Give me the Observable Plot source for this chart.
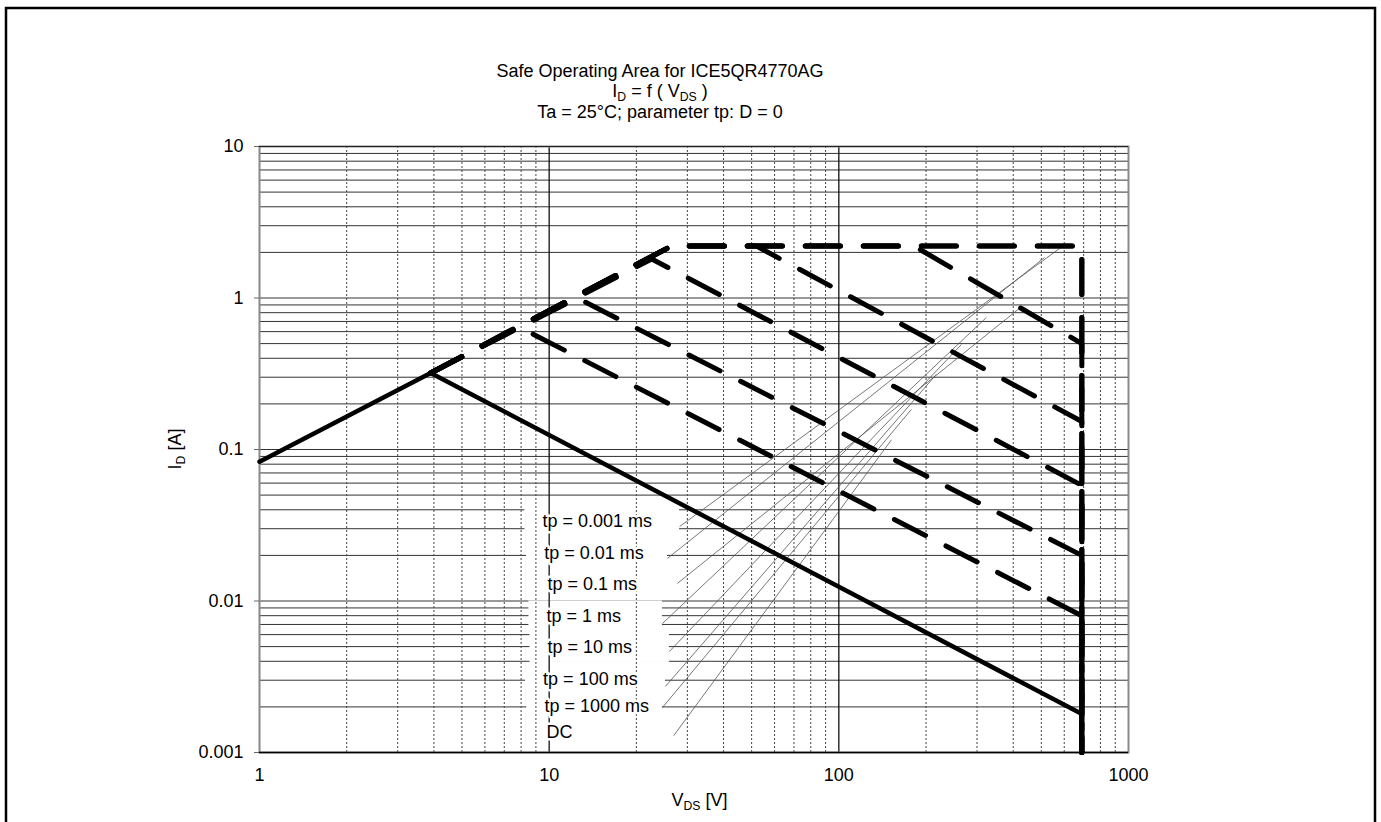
<!DOCTYPE html>
<html>
<head>
<meta charset="utf-8">
<script src="https://cdn.jsdelivr.net/npm/d3@7"></script>
<script src="https://cdn.jsdelivr.net/npm/@observablehq/plot@0.6"></script>
<style>
  html, body { margin: 0; padding: 0; background: #fff; }
  #chart { position: relative; width: 1381px; height: 822px; overflow: hidden; }
  #chart svg { display: block; }
</style>
</head>
<body>
<div id="chart"></div>
<script>
// ---------- data ----------
const titleLine1 = "Safe Operating Area for ICE5QR4770AG";
const titleLine3 = "Ta = 25°C; parameter tp: D = 0";

const xTicks = [1, 10, 100, 1000];
const yTicks = [0.001, 0.01, 0.1, 1, 10];
const xMinorGrid = [2, 3, 4, 5, 6, 7, 8, 9, 20, 30, 40, 50, 60, 70, 80, 90, 200, 300, 400, 500, 600, 700, 800, 900];
const xMajorGrid = [10, 100];
const yGrid = [0.002, 0.003, 0.004, 0.005, 0.006, 0.007, 0.008, 0.009,
               0.01, 0.02, 0.03, 0.04, 0.05, 0.06, 0.07, 0.08, 0.09,
               0.1, 0.2, 0.3, 0.4, 0.5, 0.6, 0.7, 0.8, 0.9,
               1, 2, 3, 4, 5, 6, 7, 8, 9, 10];

// pulse curves (dashed): vertices in V_DS [V] and I_D [A]
const pulseNames = ["tp = 0.001 ms", "tp = 0.01 ms", "tp = 0.1 ms", "tp = 1 ms", "tp = 10 ms", "tp = 100 ms", "tp = 1000 ms"];
const pulseV = [
  [3.9, 26.4, 690, 690],
  [3.9, 26.4, 690, 690],
  [3.9, 26.4, 182, 690, 690],
  [3.9, 26.4, 52, 690, 690],
  [3.9, 22.6, 690, 690],
  [3.9, 12.5, 690, 690],
  [3.9, 7.8, 690, 690]
];
const pulseI = [
  [0.32, 2.2, 2.2, 0.001],
  [0.32, 2.2, 2.2, 0.001],
  [0.32, 2.2, 2.2, 0.50, 0.001],
  [0.32, 2.2, 2.2, 0.153, 0.001],
  [0.32, 1.81, 0.058, 0.001],
  [0.32, 1.0, 0.020, 0.001],
  [0.32, 0.65, 0.0080, 0.001]
];
// DC curve (solid)
const dcV = [1, 3.9, 688, 688];
const dcI = [0.083, 0.32, 0.0018, 0.001];

// labels and their leader lines
const labelNames = ["tp = 0.001 ms", "tp = 0.01 ms", "tp = 0.1 ms", "tp = 1 ms", "tp = 10 ms", "tp = 100 ms", "tp = 1000 ms", "DC"];
const labelV = [9.48, 9.61, 9.87, 9.79, 9.87, 9.53, 9.63, 9.79];
const labelI = [0.0336, 0.0208, 0.0130, 0.00794, 0.00495, 0.00303, 0.00202, 0.00136];
const leaderStartV = [28.2, 25.6, 27.7, 24.6, 26.0, 25.2, 24.6, 26.9];
const leaderStartI = [0.0310, 0.0191, 0.01305, 0.0071, 0.00464, 0.00273, 0.00198, 0.00129];
const leaderEndV = [591, 513, 424, 323, 265, 217, 178, 152];
const leaderEndI = [2.19, 1.85, 0.866, 0.743, 0.493, 0.313, 0.184, 0.116];

// ---------- tables built from the arrays ----------
const pulseRows = pulseNames.flatMap((name, i) => pulseV[i].map((v, j) => ({series: name, V: v, I: pulseI[i][j]})));
const dcRows = dcV.map((v, j) => ({V: v, I: dcI[j]}));
const labelRows = labelNames.map((name, i) => ({
  label: name, V: labelV[i], I: labelI[i],
  sV: leaderStartV[i], sI: leaderStartI[i], eV: leaderEndV[i], eI: leaderEndI[i]
}));

const FONT = "'Liberation Sans', Arial, Helvetica, sans-serif";

const plot = Plot.plot({
  width: 1381,
  height: 822,
  marginLeft: 259,
  marginRight: 253,
  marginTop: 146,
  marginBottom: 70,
  style: {fontFamily: FONT, fontSize: "18px", background: "white", color: "black", overflow: "visible"},
  x: {type: "log", domain: [1, 1000]},
  y: {type: "log", domain: [0.001, 10]},
  marks: [
    Plot.ruleY(yGrid, {stroke: "#333", strokeWidth: 1}),
    Plot.rect(labelRows, {x1: d => d.V / 1.15, x2: "sV", y1: d => d.I / 1.26, y2: d => d.I * 1.26, fill: "white"}),
    Plot.ruleX(xMinorGrid, {stroke: "#444", strokeWidth: 1, strokeDasharray: "2,2"}),
    Plot.ruleX(xMajorGrid, {stroke: "#111", strokeWidth: 1.3}),
    Plot.frame({stroke: "#888", strokeWidth: 2}),
    Plot.ruleY([0.001], {stroke: "black", strokeWidth: 1.5}),
    Plot.ruleY([10], {stroke: "#222", strokeWidth: 1.2}),
    Plot.link(labelRows, {x1: "sV", y1: "sI", x2: "eV", y2: "eI", stroke: "#555", strokeWidth: 0.8}),
    Plot.line(pulseRows, {x: "V", y: "I", z: "series", stroke: "black", strokeWidth: 5,
      strokeDasharray: "35,23", strokeLinecap: "round", strokeLinejoin: "round"}),
    Plot.line(dcRows, {x: "V", y: "I", stroke: "black", strokeWidth: 4.5, strokeLinejoin: "round"}),
    Plot.text(labelRows, {x: "V", y: "I", text: "label", textAnchor: "start", fontSize: 18,
      fill: "black", stroke: "white", strokeWidth: 5, paintOrder: "stroke"}),
    Plot.axisX({ticks: xTicks, tickFormat: d => String(d), tickSize: 0, tickPadding: 16, label: null}),
    Plot.axisY({ticks: yTicks, tickFormat: d => String(d), tickSize: 5, tickPadding: 11, label: null, stroke: "#666"})
  ]
});

document.getElementById("chart").appendChild(plot);

// ---------- page furniture: border, title, axis titles ----------
const svg = d3.select(plot);
svg.append("rect")
  .attr("x", 6).attr("y", 8).attr("width", 1369).attr("height", 840)
  .attr("fill", "none").attr("stroke", "black").attr("stroke-width", 2.5);

function richText(g, parts, size) {
  parts.forEach(([s, sub], k) => {
    const prevSub = k > 0 && parts[k - 1][1];
    const ts = g.append("tspan").text(s);
    if (sub) ts.attr("font-size", size * 0.68).attr("dy", prevSub ? 0 : 4);
    else if (prevSub) ts.attr("dy", -4);
  });
}

const titleX = 660;
const tg = svg.append("g").attr("font-family", FONT).attr("font-size", 18).attr("fill", "black").attr("text-anchor", "middle");
tg.append("text").attr("x", titleX).attr("y", 77).text(titleLine1);
richText(tg.append("text").attr("x", titleX).attr("y", 97), [["I", false], ["D", true], [" = f ( V", false], ["DS", true], [" )", false]], 18);
tg.append("text").attr("x", titleX).attr("y", 118).text(titleLine3);

const xs = plot.scale("x"), ys = plot.scale("y");
const xMid = (xs.range[0] + xs.range[1]) / 2;
const yMid = (ys.range[0] + ys.range[1]) / 2;
richText(svg.append("text").attr("font-family", FONT).attr("font-size", 18).attr("text-anchor", "middle")
  .attr("x", xMid + 6).attr("y", 806), [["V", false], ["DS", true], [" [V]", false]], 18);
richText(svg.append("text").attr("font-family", FONT).attr("font-size", 18).attr("text-anchor", "middle")
  .attr("transform", `translate(181,${yMid}) rotate(-90)`), [["I", false], ["D", true], [" [A]", false]], 18);
</script>
</body>
</html>
